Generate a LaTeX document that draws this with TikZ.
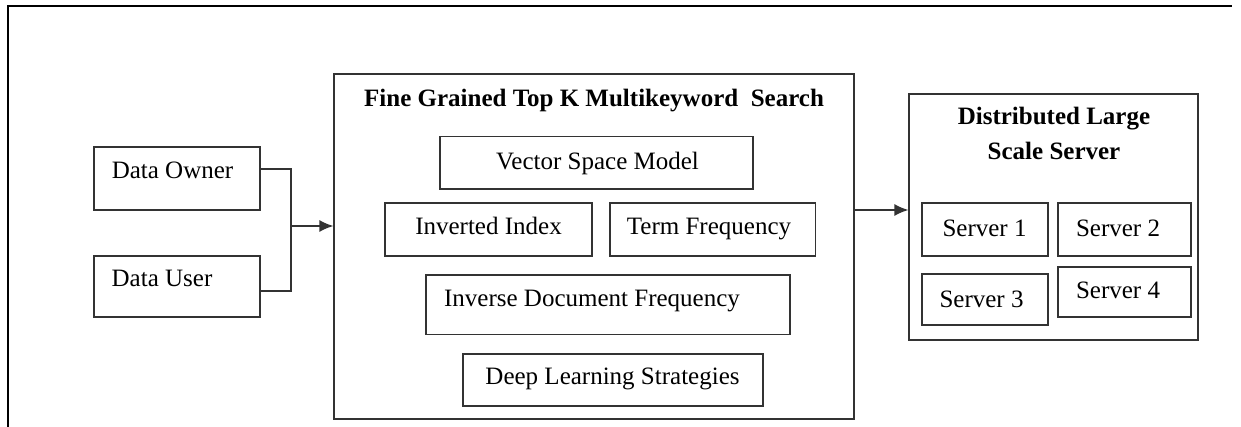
\documentclass[tikz,border=0pt]{standalone}
\usepackage{fontspec}
\setmainfont{Liberation Serif}
\usetikzlibrary{fit,calc,arrows.meta}
\begin{document}
\begin{tikzpicture}[x=0.5pt,y=-0.5pt,
  box/.style={draw=black!80, line width=0.65pt, rectangle, inner sep=0pt},
  txt/.style={inner sep=0pt, anchor=base, font=\fontsize{12.5}{17.5}\selectfont},
  ttl/.style={inner sep=0pt, anchor=base, font=\fontsize{12.5}{17.5}\selectfont\bfseries},
  conn/.style={draw=black!80, line width=0.65pt},
  arr/.style={conn, -{Latex[length=7pt,width=6pt]}}]
\useasboundingbox (0,0) rectangle (1241,427);
% outer frame (top and left edges)
\coordinate (fa) at (8,427);
\coordinate (fb) at (8,6);
\coordinate (fc) at (1232,6);
\draw[line width=1pt] (fa) -- (fb) -- (fc);
% left boxes
\node[box, fit={(94,147) (260,210)}] (owner) {};
\node[txt] (ownerT) at (172.5,179) {Data Owner};
\node[box, fit={(94,256) (260,317)}] (user) {};
\node[txt] (userT) at (162,286) {Data User};
% main box
\node[box, fit={(334,74) (854,419)}] (main) {};
\node[ttl] (mainT) at (594,106.5) {Fine Grained Top K Multikeyword\ \ Search};
\node[box, fit={(440,136.5) (753,189)}] (vsm) {};
\node[txt] (vsmT) at (597.5,170) {Vector Space Model};
\node[box, fit={(385,203) (592,256)}] (inv) {};
\node[txt] (invT) at (488.5,234.5) {Inverted Index};
\node[box, fit={(610,203) (815.5,256)}] (tf) {};
\node[txt] (tfT) at (709,234.5) {Term Frequency};
\node[box, fit={(426,275) (790,334.5)}] (idf) {};
\node[txt] (idfT) at (592,306.4) {Inverse Document Frequency};
\node[box, fit={(463,354) (763,406)}] (dls) {};
\node[txt] (dlsT) at (612.5,384) {Deep Learning Strategies};
% server box
\node[box, fit={(909,94) (1198,340)}] (srv) {};
\node[ttl] (srvT1) at (1054,125) {Distributed Large};
\node[ttl] (srvT2) at (1054,160) {Scale Server};
\node[box, fit={(922,203) (1048,256)}] (s1) {};
\node[txt] (s1T) at (984.5,236) {Server 1};
\node[box, fit={(1058,203) (1191,256)}] (s2) {};
\node[txt] (s2T) at (1118,236) {Server 2};
\node[box, fit={(922,274) (1048,325)}] (s3) {};
\node[txt] (s3T) at (981.5,307) {Server 3};
\node[box, fit={(1058,267) (1191,317)}] (s4) {};
\node[txt] (s4T) at (1118,299) {Server 4};
% connectors
\coordinate (j) at (291,226);
\draw[conn] ($(owner.east)+(0,-9.5)$) -| (j);
\draw[conn] ($(user.east)+(0,4.5)$) -| (j);
\draw[arr] (j) -- (j -| main.west);
\coordinate (a) at (880,210);
\draw[arr] (a -| main.east) -- (a -| srv.west);
\end{tikzpicture}
\end{document}
